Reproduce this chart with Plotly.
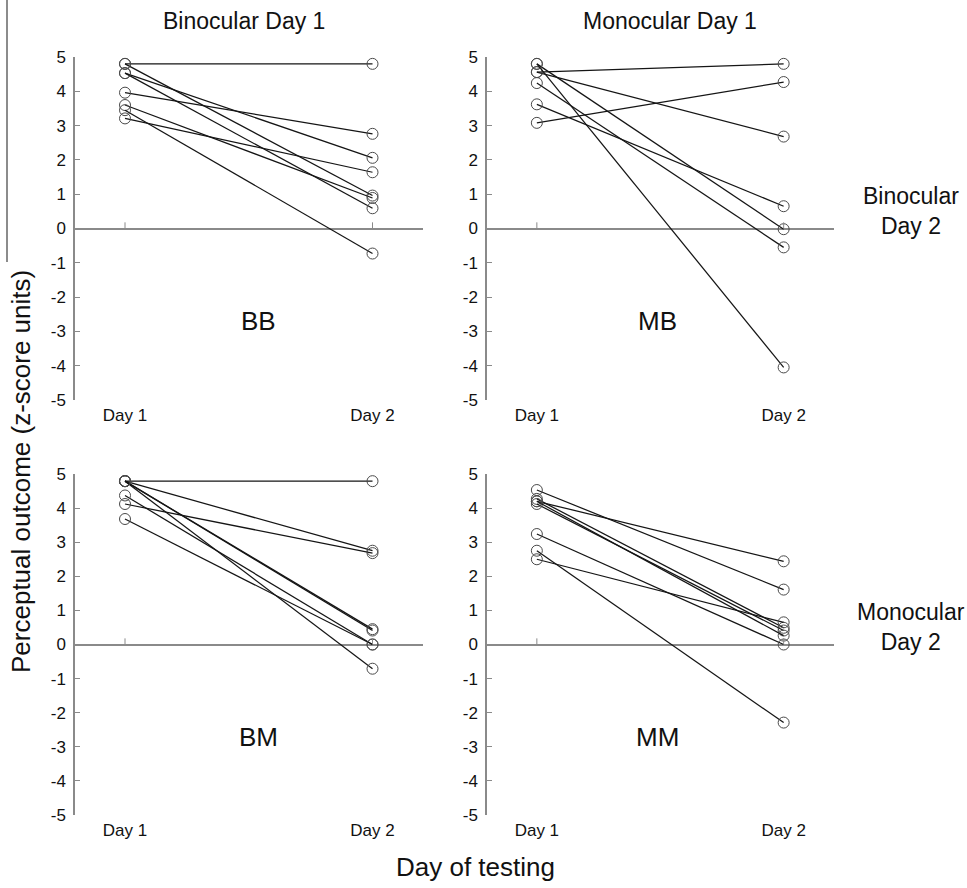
import plotly.graph_objects as go

# ---- data ----
days = [1, 2]
day_labels = ["Day 1", "Day 2"]
y_ticks = [-5, -4, -3, -2, -1, 0, 1, 2, 3, 4, 5]
y_tick_labels = ["-5", "-4", "-3", "-2", "-1", "0", "1", "2", "3", "4", "5"]

bb_day1 = [4.80, 4.80, 4.53, 4.53, 3.96, 3.60, 3.21, 3.45]
bb_day2 = [4.80, 0.96, 2.06, 0.59, 2.76, 0.89, 1.64, -0.73]

mb_day1 = [4.56, 3.08, 4.56, 4.80, 4.80, 4.24, 3.62]
mb_day2 = [4.80, 4.27, 2.68, -0.02, -4.05, -0.55, 0.65]

bm_day1 = [4.79, 4.79, 4.12, 4.79, 4.79, 4.37, 3.68, 4.79]
bm_day2 = [4.79, 2.75, 2.68, 0.45, 0.41, 0.00, 0.00, -0.71]

mm_day1 = [4.53, 4.20, 4.27, 4.12, 4.20, 3.24, 2.75, 2.50]
mm_day2 = [1.61, 2.44, 0.49, 0.41, 0.26, 0.00, -2.29, 0.65]

panel_names = ["BB", "MB", "BM", "MM"]
col_titles = ["Binocular Day 1", "Monocular Day 1"]
row_titles = ["Binocular<br>Day 2", "Monocular<br>Day 2"]

panels = [(bb_day1, bb_day2), (mb_day1, mb_day2), (bm_day1, bm_day2), (mm_day1, mm_day2)]

W, H = 967, 888
FONT = "Liberation Sans, Arial, sans-serif"
AX = "#8a8a8a"

def px_x(p):
    return p / W

def px_y(p):
    return 1 - p / H

x_doms = [[px_x(75), px_x(423)], [px_x(487), px_x(834)]]
y_doms = [[px_y(400), px_y(57)], [px_y(815), px_y(474)]]

fig = go.Figure()
layout = dict(
    template="none",
    width=W, height=H, margin=dict(l=0, r=0, t=0, b=0, pad=0), autosize=False,
    paper_bgcolor="white", plot_bgcolor="white", showlegend=False,
    font=dict(family=FONT, color="#111"),
)
shapes = []
annotations = []

for i, (d1, d2) in enumerate(panels):
    r, c = divmod(i, 2)
    k = "" if i == 0 else str(i + 1)
    xa, ya = "x" + k, "y" + k
    for a, b in zip(d1, d2):
        fig.add_trace(go.Scatter(
            x=days, y=[a, b], xaxis=xa, yaxis=ya, mode="lines+markers",
            line=dict(color="#151515", width=1.25),
            marker=dict(symbol="circle-open", size=11, color="#4a4a4a", line=dict(width=1)),
            cliponaxis=False, hoverinfo="skip",
        ))
    layout["xaxis" + k] = dict(
        domain=x_doms[c], anchor=ya, range=[0.798, 2.204], automargin=False,
        tickvals=days, ticktext=day_labels, ticks="", showline=False,
        showgrid=False, zeroline=False, tickfont=dict(size=17, family=FONT, color="#111"),
        ticklabelstandoff=3,
    )
    layout["yaxis" + k] = dict(
        domain=y_doms[r], anchor=xa, range=[-5, 5], automargin=False,
        tickvals=y_ticks, ticktext=y_tick_labels, ticks="inside", ticklen=5,
        tickcolor=AX, tickwidth=1,
        showline=True, linecolor=AX, linewidth=1.5, mirror=False,
        showgrid=False, zeroline=True, zerolinecolor=AX, zerolinewidth=1.5,
        tickfont=dict(size=17, family=FONT, color="#111"), ticklabelstandoff=4,
    )
    for d in days:
        shapes.append(dict(type="line", xref=xa, yref=ya, x0=d, x1=d, y0=0, y1=0.18,
                           line=dict(color=AX, width=1)))
    annotations.append(dict(text=panel_names[i], xref=xa, yref=ya,
                            x=[1.54, 1.49, 1.54, 1.49][i], y=-2.7,
                            xanchor="center", yanchor="middle",
                            showarrow=False, font=dict(size=26, family=FONT)))

for c, t in enumerate(col_titles):
    annotations.append(dict(text=t, xref="paper", yref="paper",
                            x=px_x([244, 670][c]), y=px_y(21),
                            xanchor="center", yanchor="middle",
                            showarrow=False, font=dict(size=23, family=FONT)))
for r, t in enumerate(row_titles):
    annotations.append(dict(text=t, xref="paper", yref="paper",
                            x=px_x(911), y=px_y([211, 627][r]),
                            xanchor="center", yanchor="middle",
                            showarrow=False, align="center", font=dict(size=23, family=FONT)))

annotations.append(dict(text="Day of testing", xref="paper", yref="paper",
                        x=px_x(475), y=px_y(867), xanchor="center", yanchor="middle",
                        showarrow=False, font=dict(size=26, family=FONT)))
annotations.append(dict(text="Perceptual outcome (z-score units)", xref="paper", yref="paper",
                        x=px_x(21), y=px_y(472), xanchor="center", yanchor="middle",
                        showarrow=False, textangle=-90,
                        font=dict(size=26, family=FONT)))

shapes.append(dict(type="line", xref="paper", yref="paper", x0=px_x(7), x1=px_x(7),
                   y0=1, y1=px_y(262), line=dict(color="#666", width=1.5)))

layout["shapes"] = shapes
layout["annotations"] = annotations
fig.update_layout(**layout)
fig.write_html(
    "out.html",
    config={"displayModeBar": False},
    post_script="document.body.style.margin='0';document.body.style.overflow='hidden';",
)
